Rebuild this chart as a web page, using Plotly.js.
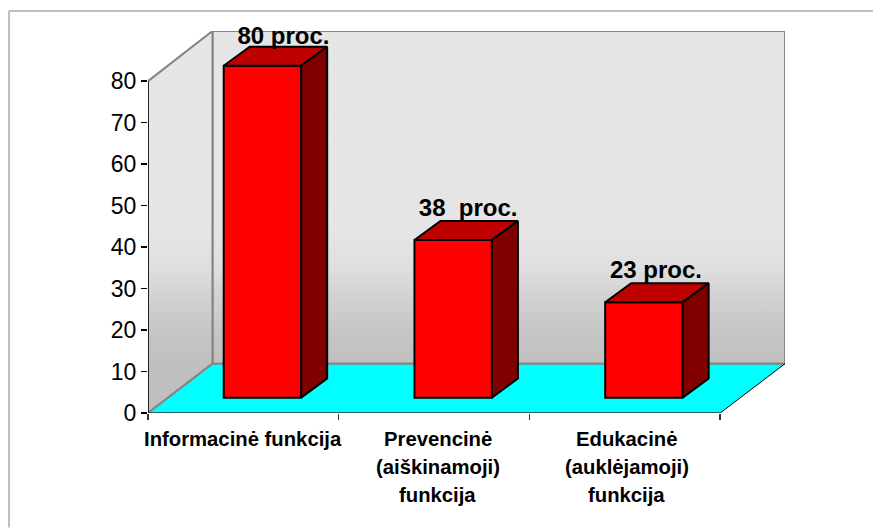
<!DOCTYPE html>
<html>
<head>
<meta charset="utf-8">
<script src="https://cdn.plot.ly/plotly-3.0.1.min.js"></script>
<style>html,body{margin:0;padding:0;background:#fff}#c{width:873px;height:528px}</style>
</head>
<body>
<div id="c"></div>
<script>
// Data
const categories = [["Informacinė funkcija"], ["Prevencinė", "(aiškinamoji)", "funkcija"], ["Edukacinė", "(auklėjamoji)", "funkcija"]];
const values = [80, 38, 23];
const valueLabels = ["80 proc.", "38\u00a0\u00a0proc.", "23 proc."];
const yTicks = [0, 10, 20, 30, 40, 50, 60, 70, 80];

// Geometry in axis units
const W = 873, H = 528;
const L = 147.5, R = 784.7, T = 30.5, B = 413.3;
const catPx = 190.8, unitPx = 4.157;
const xMax = (R - L) / catPx, yMax = (B - T) / unitPx;
const n = categories.length;
const floorDx = (212 - L) / catPx, floorDy = 11.9;
const barW = 77.5 / catPx, barOff = 0.1, barBase = 3.7;
const depthX = 26 / catPx, depthY = 4.6;
const labelShiftPx = [8, 2, -1];
const labelDrop = [0.7, 0.2, 0.1];

const font = "'Liberation Sans', Arial, sans-serif";
const grad = {type: 'vertical', start: 11.9, stop: 92.08,
  colorscale: [[0, '#bfbfbf'], [0.1, '#c6c6c6'], [0.2, '#d2d2d2'], [0.3, '#e0e0e0'], [0.4, '#e5e5e5'], [1, '#e6e6e6']]};
// left wall: gradient runs over its own full height, from the front corner upwards
const gradLeft = {type: 'vertical',
  colorscale: [[0, '#bfbfbf'], [0.129, '#bfbfbf'], [0.216, '#c6c6c6'], [0.303, '#d2d2d2'], [0.39, '#e0e0e0'], [0.477, '#e5e5e5'], [1, '#e6e6e6']]};

function poly(xs, ys, extra, axes) {
  return Object.assign({x: xs, y: ys, type: 'scatter', mode: 'lines', fill: 'toself',
    hoverinfo: 'skip', showlegend: false, cliponaxis: false,
    xaxis: axes ? 'x2' : 'x', yaxis: axes ? 'y2' : 'y'}, extra);
}
const grey = {color: '#858585', width: 2};
const traces = [];
// Walls and floor
traces.push(poly([floorDx, xMax, xMax, floorDx, floorDx], [floorDy, floorDy, yMax, yMax, floorDy],
  {fillgradient: grad, line: grey, uid: 'backwall'}));
traces.push(poly([0, floorDx, floorDx, 0, 0], [0, floorDy, yMax, 80, 0],
  {fillgradient: gradLeft, line: grey, uid: 'leftwall'}));
traces.push(poly([0, n, xMax, floorDx, 0], [0, 0, floorDy, floorDy, 0],
  {fillcolor: '#00ffff', line: {width: 0}}));
// floor edges
traces.push({x: [0, floorDx, xMax], y: [0, floorDy, floorDy], type: 'scatter', mode: 'lines', line: grey, hoverinfo: 'skip', showlegend: false, cliponaxis: false});
traces.push({x: [n, xMax], y: [0, floorDy], type: 'scatter', mode: 'lines', line: {color: '#000', width: 1}, hoverinfo: 'skip', showlegend: false, cliponaxis: false});
// Axis lines
traces.push({x: [0, 0], y: [0, 80], type: 'scatter', mode: 'lines', line: {color: '#000', width: 1.5}, hoverinfo: 'skip', showlegend: false, cliponaxis: false});
traces.push({x: [0, n], y: [0, 0], type: 'scatter', mode: 'lines', line: {color: '#333', width: 1.5}, hoverinfo: 'skip', showlegend: false, cliponaxis: false});

// Bars (front faces)
const barX = values.map((v, i) => i + 0.5 + barOff);
traces.push({type: 'bar', x: barX, y: values, base: values.map(() => barBase), width: barW,
  marker: {color: '#ff0000', line: {color: '#000', width: 2}},
  xaxis: 'x2', yaxis: 'y2', hoverinfo: 'skip', showlegend: false});
// Tops and sides
const edge = {color: '#000', width: 2};
values.forEach((v, i) => {
  const x0 = barX[i] - barW / 2, x1 = barX[i] + barW / 2, y0 = barBase, y1 = barBase + v;
  traces.push(poly([x0, x1, x1 + depthX, x0 + depthX, x0], [y1, y1, y1 + depthY, y1 + depthY, y1],
    {fillcolor: '#bf0000', line: edge}, true));
  traces.push(poly([x1, x1 + depthX, x1 + depthX, x1, x1], [y0, y0 + depthY, y1 + depthY, y1, y0],
    {fillcolor: '#800000', line: edge}, true));
});
// Value labels
traces.push({type: 'scatter', mode: 'text', xaxis: 'x2', yaxis: 'y2', cliponaxis: false,
  x: values.map((v, i) => barX[i] + depthX / 2 + labelShiftPx[i] / catPx),
  y: values.map((v, i) => barBase + v + depthY - labelDrop[i]),
  text: valueLabels, textposition: 'top center',
  textfont: {family: font, size: 24, color: '#000', weight: 700},
  hoverinfo: 'skip', showlegend: false});

// Category labels, one line per annotation
const annotations = [];
categories.forEach((lines, i) => lines.forEach((t, j) => {
  annotations.push({text: '<b>' + t + '</b>', x: i + 0.5 + [0, 0.02, 0.01][i], xref: 'x', y: 0, yref: 'y',
    yanchor: 'middle', xanchor: 'center', yshift: -(26 + 28 * j), showarrow: false,
    font: {family: font, size: 20.3, color: '#000'}});
}));

const frame = {type: 'line', xref: 'paper', yref: 'paper', line: {color: '#bfbfbf', width: 2}};
const px = p => (p - L) / (R - L), py = p => (B - p) / (B - T);
const layout = {
  width: W, height: H, showlegend: false, paper_bgcolor: '#fff', plot_bgcolor: 'rgba(0,0,0,0)',
  margin: {l: L, r: W - R, t: T, b: H - B, pad: 0},
  xaxis: {range: [0, xMax], showgrid: false, zeroline: false, showline: false, tickmode: 'array',
    tickvals: [0, 1, 2, 3], ticktext: ['', '', '', ''], ticks: 'outside', ticklen: 6, tickcolor: '#333', tickwidth: 1.5},
  yaxis: {range: [0, yMax], showgrid: false, zeroline: false, showline: false, tickmode: 'array',
    tickvals: yTicks, ticktext: yTicks.map(String), ticks: 'outside', ticklen: 6, tickcolor: '#000', tickwidth: 1.5,
    tickfont: {family: font, size: 23, color: '#000'}},
  xaxis2: {range: [0, xMax], overlaying: 'x', visible: false},
  yaxis2: {range: [0, yMax], overlaying: 'y', visible: false},
  annotations,
  shapes: [
    Object.assign({}, frame, {x0: px(8.5), x1: px(873), y0: py(10.5), y1: py(10.5)}),
    Object.assign({}, frame, {x0: px(8.5), x1: px(8.5), y0: py(10.5), y1: py(528)})
  ]
};
Plotly.newPlot('c', traces, layout, {displayModeBar: false, staticPlot: true});
</script>
</body>
</html>
